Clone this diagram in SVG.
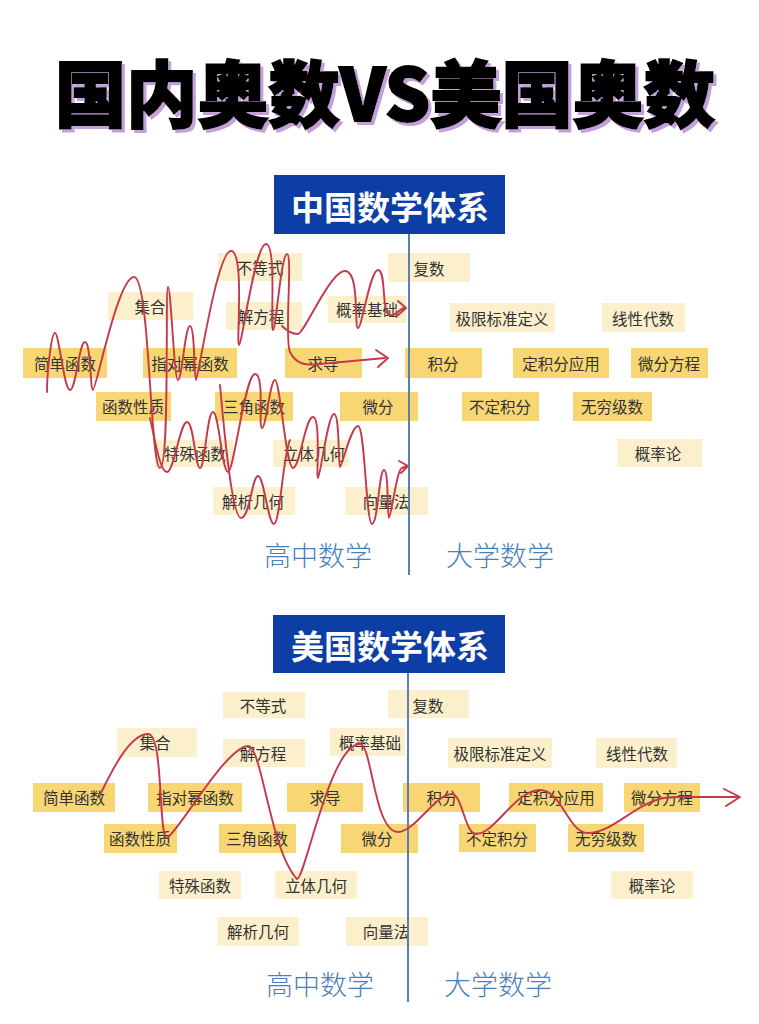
<svg xmlns="http://www.w3.org/2000/svg" width="759" height="1024" viewBox="0 0 759 1024">
<defs>
<filter id="shadow" x="-5%" y="-20%" width="110%" height="140%">
<feDropShadow dx="3" dy="3" stdDeviation="0.6" flood-color="#c3a0da" flood-opacity="1"/>
</filter>
</defs>
<style>
.cjk{font-family:"Noto Sans CJK SC","Noto Sans",sans-serif}
.lt{fill:#fcefcc}
.dk{fill:#f8d673}
.nt{font-family:"Noto Sans CJK SC","Noto Sans",sans-serif;font-size:15.5px;fill:#333;text-anchor:middle;dominant-baseline:central}
.hdr{fill:#0d3ea6}
.ht{font-family:"Noto Sans CJK SC","Noto Sans",sans-serif;font-size:33px;font-weight:700;fill:#fff;text-anchor:middle}
.cat{font-family:"Noto Sans CJK SC","Noto Sans",sans-serif;font-size:27px;font-weight:300;fill:#4a80ba;text-anchor:middle}
.axis{stroke:#5b7fb3;stroke-width:2}
.pen{fill:none;stroke:#c43a4a;stroke-width:1.9;stroke-linecap:round;stroke-linejoin:round}
</style>
<rect width="759" height="1024" fill="#fff"/>
<g id="title">
<text x="385" y="121" class="cjk" font-size="72" font-weight="900" fill="#000" stroke="#000" stroke-width="2" text-anchor="middle" textLength="660" lengthAdjust="spacingAndGlyphs" filter="url(#shadow)">国内奥数VS美国奥数</text>
</g>

<!-- top chart -->
<g id="top-header"><rect class="hdr" x="274" y="175" width="231" height="59"/><text class="ht" x="390" y="220">中国数学体系</text></g>
<g id="t-budengshi"><rect class="lt" x="218" y="253" width="84" height="28"/><text class="nt" x="260" y="267">不等式</text></g>
<g id="t-fushu"><rect class="lt" x="388" y="253" width="82" height="29"/><text class="nt" x="429" y="268">复数</text></g>
<g id="t-jihe"><rect class="lt" x="108" y="292" width="85" height="28"/><text class="nt" x="150" y="306">集合</text></g>
<g id="t-jiefangcheng"><rect class="lt" x="226" y="302" width="76" height="28"/><text class="nt" x="261" y="316">解方程</text></g>
<g id="t-gailvjichu"><rect class="lt" x="328" y="296" width="78" height="27"/><text class="nt" x="367" y="309">概率基础</text></g>
<g id="t-jixian"><rect class="lt" x="450" y="303" width="105" height="29"/><text class="nt" x="502" y="318">极限标准定义</text></g>
<g id="t-xianxing"><rect class="lt" x="602" y="303" width="83" height="29"/><text class="nt" x="643" y="318">线性代数</text></g>
<g id="t-jiandan"><rect class="dk" x="23" y="348" width="84" height="30"/><text class="nt" x="65" y="363">简单函数</text></g>
<g id="t-zhidui"><rect class="dk" x="143" y="348" width="94" height="30"/><text class="nt" x="190" y="363">指对幂函数</text></g>
<g id="t-qiudao"><rect class="dk" x="285" y="348" width="77" height="30"/><text class="nt" x="323" y="363">求导</text></g>
<g id="t-jifen"><rect class="dk" x="405" y="348" width="77" height="30"/><text class="nt" x="443" y="363">积分</text></g>
<g id="t-dingjifen"><rect class="dk" x="513" y="348" width="96" height="30"/><text class="nt" x="561" y="363">定积分应用</text></g>
<g id="t-weifenfc"><rect class="dk" x="631" y="348" width="77" height="30"/><text class="nt" x="669" y="363">微分方程</text></g>
<g id="t-xingzhi"><rect class="dk" x="96" y="392" width="75" height="29"/><text class="nt" x="133" y="406">函数性质</text></g>
<g id="t-sanjiao"><rect class="dk" x="215" y="392" width="78" height="29"/><text class="nt" x="254" y="406">三角函数</text></g>
<g id="t-weifen"><rect class="dk" x="340" y="392" width="78" height="29"/><text class="nt" x="378" y="406">微分</text></g>
<g id="t-budingjifen"><rect class="dk" x="462" y="392" width="77" height="29"/><text class="nt" x="500" y="406">不定积分</text></g>
<g id="t-wuqiong"><rect class="dk" x="573" y="392" width="79" height="29"/><text class="nt" x="612" y="406">无穷级数</text></g>
<g id="t-teshu"><rect class="lt" x="155" y="440" width="78" height="27"/><text class="nt" x="195" y="453">特殊函数</text></g>
<g id="t-liti"><rect class="lt" x="273" y="440" width="75" height="27"/><text class="nt" x="314" y="453">立体几何</text></g>
<g id="t-gailvlun"><rect class="lt" x="617" y="439" width="85" height="28"/><text class="nt" x="658" y="453">概率论</text></g>
<g id="t-jiexi"><rect class="lt" x="213" y="487" width="82" height="28"/><text class="nt" x="253" y="501">解析几何</text></g>
<g id="t-xiangliang"><rect class="lt" x="345" y="487" width="83" height="28"/><text class="nt" x="386" y="501">向量法</text></g>
<g id="t-labels"><text class="cat" x="318" y="566">高中数学</text><text class="cat" x="500" y="566">大学数学</text></g>

<!-- bottom chart -->
<g id="bottom-header"><rect class="hdr" x="273" y="615" width="232" height="58"/><text class="ht" x="390" y="659">美国数学体系</text></g>
<g id="b-budengshi"><rect class="lt" x="223" y="692" width="82" height="26"/><text class="nt" x="263" y="705">不等式</text></g>
<g id="b-fushu"><rect class="lt" x="388" y="690" width="81" height="28"/><text class="nt" x="428" y="705">复数</text></g>
<g id="b-jihe"><rect class="lt" x="117" y="728" width="80" height="29"/><text class="nt" x="155" y="742">集合</text></g>
<g id="b-jiefangcheng"><rect class="lt" x="223" y="739" width="82" height="28"/><text class="nt" x="263" y="753">解方程</text></g>
<g id="b-gailvjichu"><rect class="lt" x="330" y="728" width="75" height="28"/><text class="nt" x="370" y="742">概率基础</text></g>
<g id="b-jixian"><rect class="lt" x="448" y="738" width="104" height="30"/><text class="nt" x="500" y="753">极限标准定义</text></g>
<g id="b-xianxing"><rect class="lt" x="596" y="738" width="81" height="30"/><text class="nt" x="637" y="753">线性代数</text></g>
<g id="b-jiandan"><rect class="dk" x="33" y="783" width="82" height="29"/><text class="nt" x="74" y="797">简单函数</text></g>
<g id="b-zhidui"><rect class="dk" x="148" y="783" width="94" height="29"/><text class="nt" x="195" y="797">指对幂函数</text></g>
<g id="b-qiudao"><rect class="dk" x="287" y="783" width="76" height="29"/><text class="nt" x="325" y="797">求导</text></g>
<g id="b-jifen"><rect class="dk" x="403" y="783" width="77" height="29"/><text class="nt" x="442" y="797">积分</text></g>
<g id="b-dingjifen"><rect class="dk" x="509" y="783" width="94" height="29"/><text class="nt" x="556" y="797">定积分应用</text></g>
<g id="b-weifenfc"><rect class="dk" x="624" y="783" width="76" height="29"/><text class="nt" x="662" y="797">微分方程</text></g>
<g id="b-xingzhi"><rect class="dk" x="104" y="824" width="73" height="29"/><text class="nt" x="140" y="838">函数性质</text></g>
<g id="b-sanjiao"><rect class="dk" x="219" y="824" width="77" height="29"/><text class="nt" x="257" y="838">三角函数</text></g>
<g id="b-weifen"><rect class="dk" x="341" y="824" width="77" height="29"/><text class="nt" x="377" y="838">微分</text></g>
<g id="b-budingjifen"><rect class="dk" x="459" y="824" width="77" height="28"/><text class="nt" x="497" y="838">不定积分</text></g>
<g id="b-wuqiong"><rect class="dk" x="568" y="824" width="76" height="28"/><text class="nt" x="606" y="838">无穷级数</text></g>
<g id="b-teshu"><rect class="lt" x="159" y="871" width="82" height="28"/><text class="nt" x="200" y="885">特殊函数</text></g>
<g id="b-liti"><rect class="lt" x="275" y="871" width="82" height="28"/><text class="nt" x="316" y="885">立体几何</text></g>
<g id="b-gailvlun"><rect class="lt" x="611" y="871" width="82" height="28"/><text class="nt" x="652" y="885">概率论</text></g>
<g id="b-jiexi"><rect class="lt" x="217" y="917" width="82" height="29"/><text class="nt" x="258" y="931">解析几何</text></g>
<g id="b-xiangliang"><rect class="lt" x="346" y="917" width="82" height="29"/><text class="nt" x="386" y="931">向量法</text></g>
<g id="b-labels"><text class="cat" x="320" y="995">高中数学</text><text class="cat" x="498" y="995">大学数学</text></g>

<g id="connectors">
<line class="axis" x1="409" y1="234" x2="409" y2="575"/>
<line class="axis" x1="408" y1="673" x2="408" y2="1002"/>
<!-- top scribbles -->
<path class="pen" d="M47 392 C47 375 51 333 55 333 S64 390 70 390 S79 342 85 342 S90 390 93 390 S118 277 134 277 S150 468 160 468 S165 287 168 287 S174 380 178 380 S185 326 190 326 S194 380 196 380 S217 251 231 251 S236 345 239 345 S255 244 266 244 S270 330 273 330 S281 254 287 254 S284 340 290 352 C296 364 305 366 320 364 L385 358"/>
<path class="pen" d="M376 350 L388 358 L378 367"/>
<path class="pen" d="M282 326 C288 332 292 334 298 334 S330 271 345 271 S354 328 358 328 S370 270 378 270 S382 310 388 314 S398 310 404 308"/>
<path class="pen" d="M398 301 L406 308 L397 316"/>
<path class="pen" d="M150 418 C155 440 160 472 167 472 S180 422 187 422 S195 468 200 468 S207 412 213 412 S222 472 228 472 S245 374 255 374 S258 428 262 428 S270 380 275 380 S286 468 293 468 S305 417 313 417 S316 478 318 478 S328 414 334 414 S338 467 340 467 S351 426 358 426 S366 524 372 524 S379 470 384 470 S387 518 389 518 S397 468 402 468 L407 466"/>
<path class="pen" d="M399 461 L408 466 L401 473"/>
<path class="pen" d="M220 385 C224 430 232 518 241 518 S252 476 258 476 S268 524 274 524 S283 455 290 440"/>
<!-- bottom curve -->
<path class="pen" d="M100 795 C112 770 130 734 148 734 C164 734 158 838 167 838 C180 830 225 748 248 746 C262 746 270 850 297 879 C305 879 330 744 360 744 C372 744 374 832 398 832 C415 832 435 794 452 794 C462 794 465 834 476 834 C495 834 515 790 540 790 C562 790 568 833 588 833 C615 833 640 797 673 797 L738 797"/>
<path class="pen" d="M724 789 L740 797 L726 806"/>
</g>
</svg>
